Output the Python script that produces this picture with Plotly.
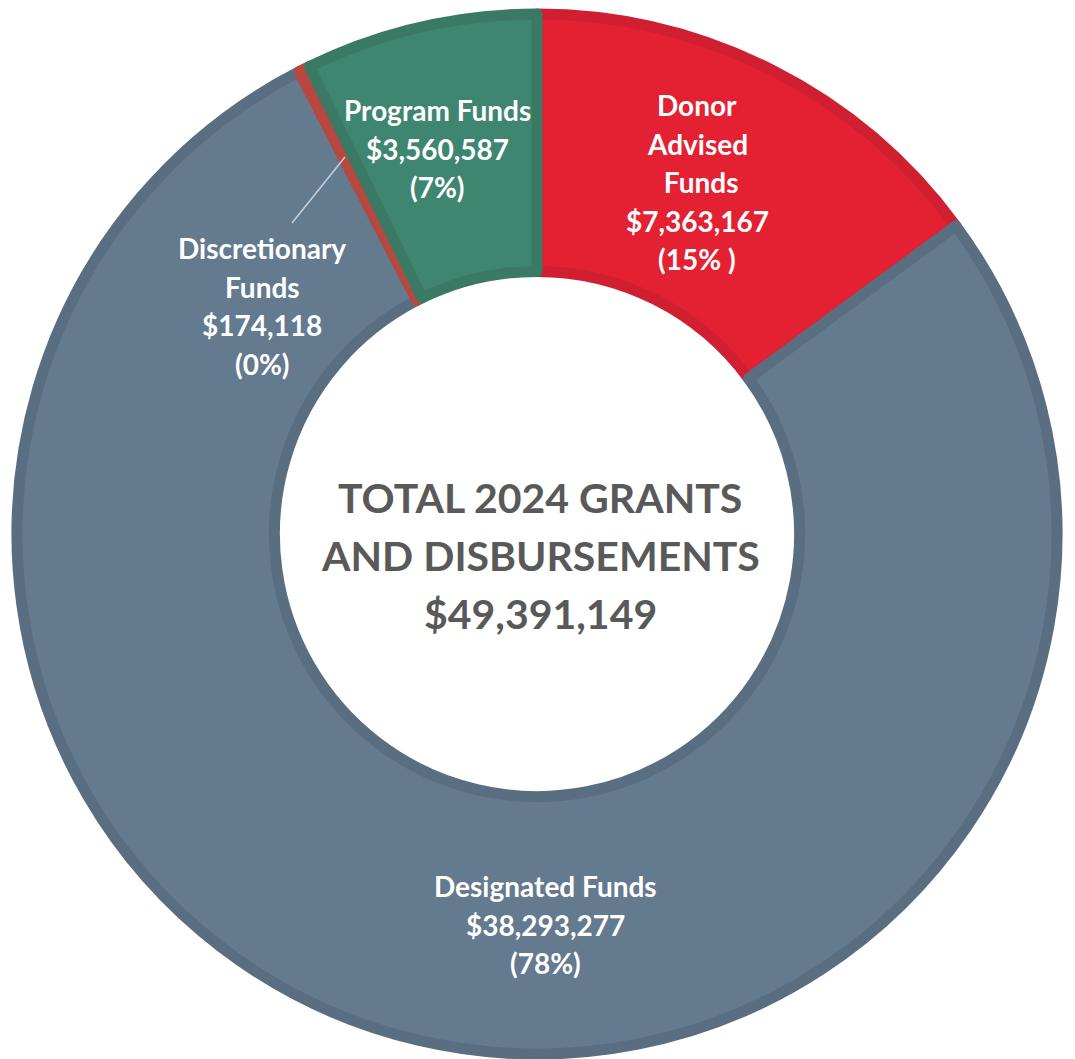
import plotly.graph_objects as go

# ---- data ----
categories = ["Donor Advised Funds", "Designated Funds", "Discretionary Funds", "Program Funds"]
values = [7363167, 38293277, 174118, 3560587]
label_lines = [
    ["Donor", "Advised", " Funds", "$7,363,167", "(15% )"],
    ["Designated Funds", "$38,293,277", "(78%)"],
    ["Discretionary", "Funds", "$174,118", "(0%)"],
    ["Program Funds", "$3,560,587", "(7%)"],
]
center_lines = ["TOTAL 2024 GRANTS", "AND DISBURSEMENTS", "$49,391,149"]

# ---- styles ----
fill_colors = ["#E42133", "#647A8F", "#C0504D", "#3F8670"]
edge_colors = ["#D01F30", "#5A6E81", "#B8483F", "#3A7A64"]
W, H = 1075, 1059
OFF = 8  # page body margin offset
# label anchor (screen pixel) for each category: center x, first line y
label_pos = [(697, 105), (545, 886), (262, 248), (437, 110)]
line_gap = 38.5
center_pos = (540, 497)
center_gap = 58


def px(x):
    return (x - OFF) / W


def py(y):
    return 1 - (y - OFF) / H


fig = go.Figure(go.Pie(
    labels=categories,
    values=values,
    sort=False,
    direction="clockwise",
    rotation=0,
    hole=0.505,
    textinfo="none",
    hoverinfo="label+value+percent",
    marker=dict(colors=fill_colors, line=dict(color=edge_colors, width=11)),
    domain=dict(x=[9 / W, 1049 / W], y=[1 - 1046 / H, 1 - 6 / H]),
    showlegend=False,
))

annotations = []
for lines, (lx, ly) in zip(label_lines, label_pos):
    for i, t in enumerate(lines):
        annotations.append(dict(
            x=px(lx), y=py(ly + i * line_gap), xref="paper", yref="paper",
            text=t, showarrow=False, xanchor="center", yanchor="middle",
            font=dict(family="Lato", size=28, color="white", weight="bold"),
        ))
for i, t in enumerate(center_lines):
    annotations.append(dict(
        x=px(center_pos[0]), y=py(center_pos[1] + i * center_gap),
        xref="paper", yref="paper", text=t, showarrow=False,
        xanchor="center", yanchor="middle",
        font=dict(family="Lato", size=41, color="#595959", weight="bold"),
    ))

fig.update_layout(
    width=W, height=H,
    margin=dict(l=0, r=0, t=0, b=0),
    paper_bgcolor="white",
    plot_bgcolor="white",
    annotations=annotations,
    shapes=[dict(type="line", xref="paper", yref="paper",
                 x0=px(292), y0=py(223), x1=px(345), y1=py(157),
                 line=dict(color="#C9D0D8", width=1.5))],
)

fig.write_html("out.html")
